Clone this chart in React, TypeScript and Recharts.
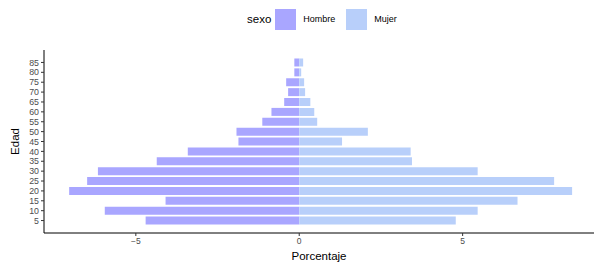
import { BarChart, Bar, XAxis, YAxis, Label } from "recharts";

// age groups (bottom to top) and percentage per sex
const edades = [5, 10, 15, 20, 25, 30, 35, 40, 45, 50, 55, 60, 65, 70, 75, 80, 85];
const hombre = [-4.7, -5.95, -4.09, -7.04, -6.49, -6.16, -4.36, -3.41, -1.86, -1.92, -1.13, -0.85, -0.46, -0.34, -0.4, -0.15, -0.15];
const mujer = [4.79, 5.46, 6.68, 8.35, 7.8, 5.46, 3.45, 3.41, 1.31, 2.1, 0.55, 0.46, 0.34, 0.18, 0.15, 0.06, 0.12];
const xTicks = [-5, 0, 5];

const series = [
  { key: "Hombre", values: hombre, color: "#A9A6FF" },
  { key: "Mujer", values: mujer, color: "#B8CFFA" },
];

const data = edades.map((edad, i) => ({
  edad,
  Hombre: hombre[i],
  Mujer: mujer[i],
}));

const font = "'Liberation Sans', Arial, sans-serif";

export default function App() {
  return (
    <div style={{ position: "absolute", left: 0, top: 0, width: 594, height: 262, fontFamily: font }}>
      {/* legend on top, ggplot style */}
      <div style={{ position: "absolute", top: 8, left: 247, display: "flex", alignItems: "center", height: 22 }}>
        <span style={{ fontSize: 11.5, color: "#000", marginRight: 4 }}>sexo</span>
        {series.map((s) => (
          <div key={s.key} style={{ display: "flex", alignItems: "center", marginRight: 11 }}>
            <div style={{ width: 21, height: 21, background: s.color }} />
            <span style={{ fontSize: 9, color: "#000", marginLeft: 7 }}>{s.key}</span>
          </div>
        ))}
      </div>
      <BarChart
        width={594}
        height={262}
        data={data}
        layout="vertical"
        stackOffset="sign"
        barCategoryGap="10%"
        margin={{ top: 50, right: 0, bottom: 0, left: 0 }}
      >
        <XAxis
          type="number"
          domain={[-7.81, 9.02]}
          ticks={xTicks}
          allowDataOverflow
          tickFormatter={(v) => (v < 0 ? `\u2212${Math.abs(v)}` : `${v}`)}
          tick={{ fill: "#4D4D4D", fontSize: 8.5, fontFamily: font }}
          tickSize={3}
          tickLine={{ stroke: "#333" }}
          axisLine={{ stroke: "#000", strokeWidth: 1 }}
          height={29}
        >
          <Label value="Porcentaje" position="insideBottom" offset={2} style={{ fill: "#000", fontSize: 11.5, fontFamily: font }} />
        </XAxis>
        <YAxis
          type="category"
          dataKey="edad"
          reversed
          width={44}
          padding={{ top: 7.5, bottom: 7.5 }}
          interval={0}
          tick={{ fill: "#4D4D4D", fontSize: 8.8, fontFamily: font }}
          tickSize={3}
          tickLine={{ stroke: "#333" }}
          axisLine={{ stroke: "#000", strokeWidth: 1 }}
        >
          <Label value="Edad" angle={-90} position="insideLeft" offset={15} style={{ fill: "#000", fontSize: 11.5, fontFamily: font, textAnchor: "middle" }} />
        </YAxis>
        {series.map((s) => (
          <Bar key={s.key} dataKey={s.key} stackId="a" fill={s.color} isAnimationActive={false} />
        ))}
      </BarChart>
    </div>
  );
}
